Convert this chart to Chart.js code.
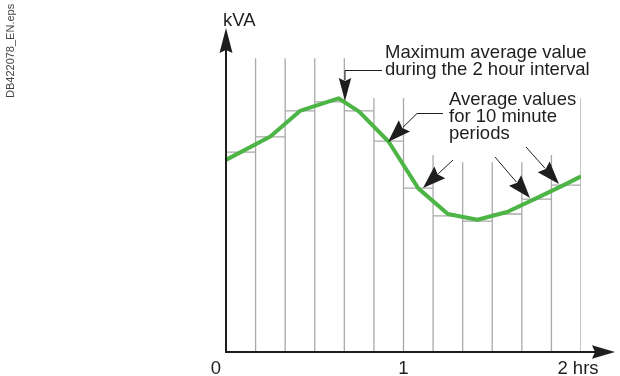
<!DOCTYPE html>
<html lang="en">
<head>
<meta charset="utf-8">
<title>Maximum average value during the 2 hour interval</title>
<script src="https://cdn.jsdelivr.net/npm/chart.js@4.4.0/dist/chart.umd.min.js"></script>
<style>
    html, body { margin: 0; padding: 0; background: #ffffff; }
    #chartWrap { position: relative; width: 620px; height: 376px; }
</style>
</head>
<body>
<div id="chartWrap"><canvas id="demandChart" width="620" height="376"></canvas></div>
<script>
// Period boundaries in minutes (2 hrs split in 10 minute periods)
const periodEdges = [0, 10, 20, 30, 40, 50, 60, 70, 80, 90, 100, 110, 120];
// Average kVA over each 10 minute period
const periodAverages = [61.7, 66.4, 74.4, 77.2, 74.4, 65.1, 50.6, 42.0, 40.4, 42.6, 47.2, 51.5];
// Demand curve (minutes, kVA)
const demandMinutes = [0, 15, 25, 38, 45, 55, 65, 75, 85, 95, 105, 115, 120];
const demandKva = [59.3, 66.5, 74.4, 78.3, 74.2, 64.9, 50.5, 42.6, 40.8, 43.2, 47.5, 51.9, 54.2];
// Height reached by the period separators (edges 10 .. 120)
const gridLineTops = [90.7, 90.7, 90.7, 90.7, 78.4, 78.4, 60.8, 58.6, 58.6, 58.6, 60.8, 78.4];
// Axis ticks and texts
const xTickValues = [0, 60, 120];
const xTickLabels = ['0', '1', '2 hrs'];
const yAxisTitle = 'kVA';
const noteMaximum = ['Maximum average value', 'during the 2 hour interval'];
const notePeriods = ['Average values', 'for 10 minute', 'periods'];
const fileTag = 'DB422078_EN.eps';

const FONT = '"Liberation Sans", Arial, sans-serif';
const INK = '#1e1e1e';
const GRID = '#a9a9a9';
const GREEN = '#4db546';

document.addEventListener('DOMContentLoaded', function() {
    initChart();
});

/**
 * Build the step segments (one flat piece per period, gaps in between)
 */
function buildSteps() {
    const pts = [];
    periodAverages.forEach(function(v, i) {
        pts.push({ x: periodEdges[i], y: v });
        pts.push({ x: periodEdges[i + 1], y: v });
        pts.push({ x: periodEdges[i + 1], y: null });
    });
    return pts;
}

/**
 * Build the vertical period separators
 */
function buildSeparators() {
    const pts = [];
    gridLineTops.forEach(function(top, i) {
        const x = periodEdges[i + 1];
        pts.push({ x: x, y: 0 });
        pts.push({ x: x, y: top });
        pts.push({ x: x, y: null });
    });
    return pts;
}

/**
 * Filled arrow head pointing from (fx, fy) towards (tx, ty)
 */
function arrowHead(ctx, fx, fy, tx, ty, len, half) {
    const a = Math.atan2(ty - fy, tx - fx);
    ctx.save();
    ctx.translate(tx, ty);
    ctx.rotate(a);
    ctx.beginPath();
    ctx.moveTo(0, 0);
    ctx.lineTo(-len, -half);
    ctx.lineTo(-len + 3, 0);
    ctx.lineTo(-len, half);
    ctx.closePath();
    ctx.fill();
    ctx.restore();
}

/**
 * Thin leader line through points, ending in an arrow head at the last point
 */
function leader(ctx, pts, len, half) {
    const n = pts.length;
    const tip = pts[n - 1];
    const prev = pts[n - 2];
    const d = Math.hypot(tip[0] - prev[0], tip[1] - prev[1]);
    const bx = tip[0] - (tip[0] - prev[0]) * (len - 2) / d;
    const by = tip[1] - (tip[1] - prev[1]) * (len - 2) / d;
    ctx.beginPath();
    ctx.moveTo(pts[0][0], pts[0][1]);
    for (let i = 1; i < n - 1; i++) ctx.lineTo(pts[i][0], pts[i][1]);
    ctx.lineTo(bx, by);
    ctx.stroke();
    arrowHead(ctx, prev[0], prev[1], tip[0], tip[1], len, half);
}

const decorPlugin = {
    id: 'decor',
    afterDatasetsDraw: function(chart) {
        const ctx = chart.ctx;
        const xs = chart.scales.x;
        const ys = chart.scales.y;
        const area = chart.chartArea;
        const x0 = xs.getPixelForValue(0);
        const y0 = ys.getPixelForValue(0);

        ctx.save();
        ctx.strokeStyle = INK;
        ctx.fillStyle = INK;

        // axes with arrows
        ctx.lineWidth = 2;
        ctx.beginPath();
        ctx.moveTo(x0, y0);
        ctx.lineTo(x0, area.top + 22);
        ctx.moveTo(x0 - 1, y0);
        ctx.lineTo(area.right + 14, y0);
        ctx.stroke();
        arrowHead(ctx, x0, y0, x0, area.top, 25, 6.5);
        arrowHead(ctx, x0, y0, area.right + 34, y0, 23, 6.8);

        // axis texts
        ctx.font = '18.5px ' + FONT;
        ctx.textBaseline = 'alphabetic';
        ctx.textAlign = 'left';
        ctx.fillText(yAxisTitle, x0 - 3, area.top - 2);
        xTickValues.forEach(function(v, i) {
            const px = xs.getPixelForValue(v);
            if (i === 0) {
                ctx.textAlign = 'right';
                ctx.fillText(xTickLabels[i], px - 5, y0 + 22);
            } else {
                ctx.textAlign = 'center';
                ctx.fillText(xTickLabels[i], i === xTickValues.length - 1 ? px - 3 : px, y0 + 22);
            }
        });

        // notes
        ctx.textAlign = 'left';
        noteMaximum.forEach(function(t, i) { ctx.fillText(t, 385, 58 + i * 17); });
        notePeriods.forEach(function(t, i) { ctx.fillText(t, 449, 105 + i * 17); });

        // leader arrows
        ctx.lineWidth = 1;
        leader(ctx, [[382, 70.5], [345, 70.5], [345, 101]], 23, 6.2);
        leader(ctx, [[443, 113.5], [417, 113.5], [388, 142]], 23, 8);
        leader(ctx, [[453, 160], [423, 188]], 23, 8);
        leader(ctx, [[495, 157], [530, 198]], 23, 8);
        leader(ctx, [[526, 147], [559, 184]], 23, 8);

        // file tag on the left edge
        ctx.save();
        ctx.translate(14, 98);
        ctx.rotate(-Math.PI / 2);
        ctx.font = '11px ' + FONT;
        ctx.fillStyle = '#444444';
        ctx.textAlign = 'left';
        ctx.fillText(fileTag, 0, 0);
        ctx.restore();

        ctx.restore();
    }
};

/**
 * Initialize the chart
 */
function initChart() {
    const el = document.getElementById('demandChart');
    new Chart(el, {
        type: 'line',
        data: {
            datasets: [{
                label: 'Demand',
                data: demandMinutes.map(function(m, i) { return { x: m, y: demandKva[i] }; }),
                borderColor: GREEN,
                borderWidth: 4,
                borderJoinStyle: 'round',
                pointRadius: 0,
                tension: 0,
                order: 0
            }, {
                label: 'Period averages',
                data: buildSteps(),
                borderColor: GRID,
                borderWidth: 1.3,
                pointRadius: 0,
                spanGaps: false,
                order: 1
            }, {
                label: 'Periods',
                data: buildSeparators(),
                borderColor: GRID,
                borderWidth: 1.3,
                pointRadius: 0,
                spanGaps: false,
                order: 2
            }]
        },
        options: {
            responsive: false,
            animation: false,
            layout: {
                padding: { left: 226, right: 39, top: 28, bottom: 24 }
            },
            plugins: {
                legend: { display: false },
                tooltip: { enabled: false }
            },
            scales: {
                x: { type: 'linear', min: periodEdges[0], max: periodEdges[periodEdges.length - 1], display: false },
                y: { type: 'linear', min: 0, max: 100, display: false }
            }
        },
        plugins: [decorPlugin]
    });
}
</script>
</body>
</html>
